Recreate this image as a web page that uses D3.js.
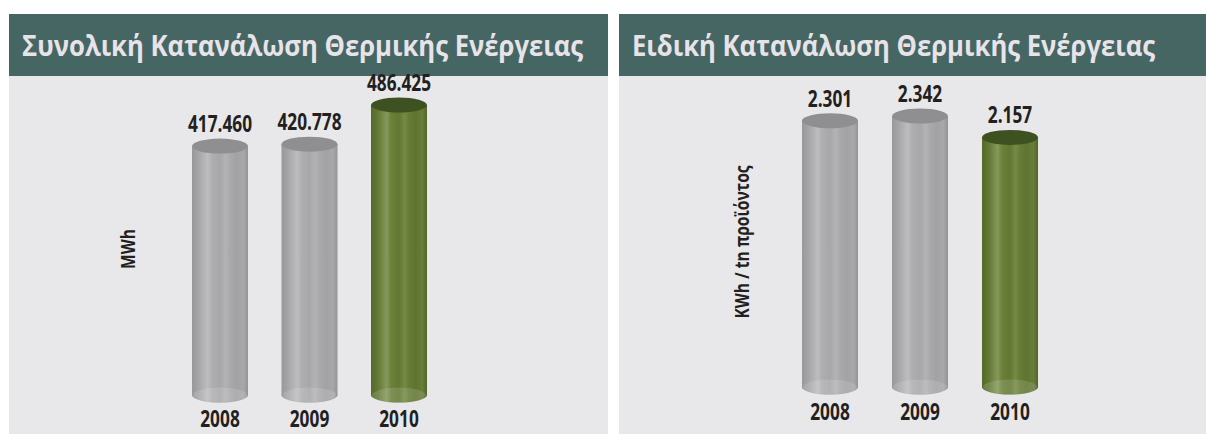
<!DOCTYPE html>
<html lang="el">
<head>
<meta charset="UTF-8">
<title>Κατανάλωση Θερμικής Ενέργειας</title>
<script src="https://cdnjs.cloudflare.com/ajax/libs/d3/7.8.5/d3.min.js"></script>
<style>
  body { margin: 0; background: #fff; }
  svg { display: block; }
  .hdr { font-family: "Open Sans", "Noto Sans", sans-serif; font-weight: 700; fill: #e7e3e9; }
  .num { font-family: "Open Sans", "Noto Sans", sans-serif; font-weight: 700; fill: #231f20; }
</style>
</head>
<body>
<svg width="1206" height="434"></svg>
<script>
"use strict";

// data
const years = ["2008", "2009", "2010"];
const totalValues = [417460, 420778, 486425];      // MWh
const specificValues = [2301, 2342, 2157];          // KWh / tn προϊόντος
const titles = ["Συνολική Κατανάλωση Θερμικής Ενέργειας", "Ειδική Κατανάλωση Θερμικής Ενέργειας"];
const unitLabels = ["MWh", "KWh / tn προϊόντος"];

const el = d3.formatLocale({ decimal: ",", thousands: ".", grouping: [3], currency: ["", "€"] });
const fmt = el.format(",");

const svg = d3.select("svg");
const defs = svg.append("defs");
const squeeze = 0.72; // fake a condensed face

function bodyGrad(id, stops) {
    const g = defs.append("linearGradient").attr("id", id)
        .attr("x1", "0").attr("x2", "1").attr("y1", "0").attr("y2", "0");
    stops.forEach(s => g.append("stop").attr("offset", s[0]).attr("stop-color", s[1]));
}
bodyGrad("gray", [[0, "#98989a"], [0.12, "#a6a6a8"], [0.28, "#bdbdbf"], [0.36, "#aeaeb0"], [0.5, "#a7a7a9"],
    [0.6, "#b3b3b5"], [0.68, "#a9a9ab"], [0.8, "#a2a2a4"], [0.92, "#a8a8aa"], [1, "#949496"]]);
bodyGrad("green", [[0, "#55692a"], [0.12, "#637833"], [0.28, "#86985a"], [0.36, "#6b8038"], [0.5, "#627733"],
    [0.6, "#758a45"], [0.68, "#667b36"], [0.8, "#5f7430"], [0.92, "#687d38"], [1, "#51652a"]]);

const panels = [
    { x: 9, w: 599, title: titles[0], unit: unitLabels[0], values: totalValues,
      xr: [220, 399], base: 395, top: 105, unitX: 135, unitY: 249, yearY: 427 },
    { x: 619, w: 587, title: titles[1], unit: unitLabels[1], values: specificValues,
      xr: [830, 1010], base: 387, top: 116, unitX: 749, unitY: 242, yearY: 420 }
];

const barW = 56, ry = 7.5;

panels.forEach((p, pi) => {
    const g = svg.append("g");
    g.append("rect").attr("x", p.x).attr("y", 14).attr("width", p.w).attr("height", 420).attr("fill", "#e8e8ea");
    g.append("rect").attr("x", p.x).attr("y", 14).attr("width", p.w).attr("height", 62).attr("fill", "#456663");
    g.append("text").attr("class", "hdr")
        .attr("transform", `translate(${p.x + 13},56) scale(0.9,1)`)
        .attr("font-size", 28.5).text(p.title);

    g.append("text").attr("class", "num")
        .attr("transform", `translate(${p.unitX},${p.unitY}) rotate(-90) scale(0.78,1)`)
        .attr("text-anchor", "middle").attr("font-size", 20).text(p.unit);

    const x = d3.scalePoint().domain(years).range(p.xr);
    const y = d3.scaleLinear().domain([0, d3.max(p.values)]).range([p.base, p.top]);
    const rows = years.map((yr, i) => ({ year: yr, value: p.values[i], last: i === years.length - 1 }));

    const bar = g.selectAll("g.bar").data(rows).enter().append("g").attr("class", "bar");

    // bottom half ellipse + body
    bar.append("ellipse")
        .attr("cx", d => x(d.year)).attr("cy", p.base).attr("rx", barW / 2).attr("ry", ry)
        .attr("fill", d => d.last ? "url(#green)" : "url(#gray)");
    bar.append("rect")
        .attr("x", d => x(d.year) - barW / 2).attr("y", d => y(d.value))
        .attr("width", barW).attr("height", d => p.base - y(d.value))
        .attr("fill", d => d.last ? "url(#green)" : "url(#gray)");
    // inner base seen through the glass
    bar.append("ellipse")
        .attr("cx", d => x(d.year)).attr("cy", p.base).attr("rx", barW / 2 - 1).attr("ry", ry)
        .attr("fill", "#ffffff").attr("fill-opacity", 0.13);
    bar.append("path")
        .attr("d", d => {
            const cx = x(d.year);
            return `M${cx - barW / 2},${p.base} A${barW / 2},${ry} 0 0,0 ${cx + barW / 2},${p.base}`;
        })
        .attr("fill", "none").attr("stroke", "#000").attr("stroke-opacity", 0.05);
    // top cap
    bar.append("ellipse")
        .attr("cx", d => x(d.year)).attr("cy", d => y(d.value)).attr("rx", barW / 2).attr("ry", ry)
        .attr("fill", d => d.last ? "#3d5220" : "#8f8f92");

    bar.append("text").attr("class", "num")
        .attr("transform", d => `translate(${x(d.year)},${y(d.value) - 14}) scale(${squeeze},1)`)
        .attr("text-anchor", "middle").attr("font-size", 24)
        .text(d => fmt(d.value));

    bar.append("text").attr("class", "num")
        .attr("transform", d => `translate(${x(d.year)},${p.yearY}) scale(${squeeze},1)`)
        .attr("text-anchor", "middle").attr("font-size", 24)
        .text(d => d.year);
});
</script>
</body>
</html>
